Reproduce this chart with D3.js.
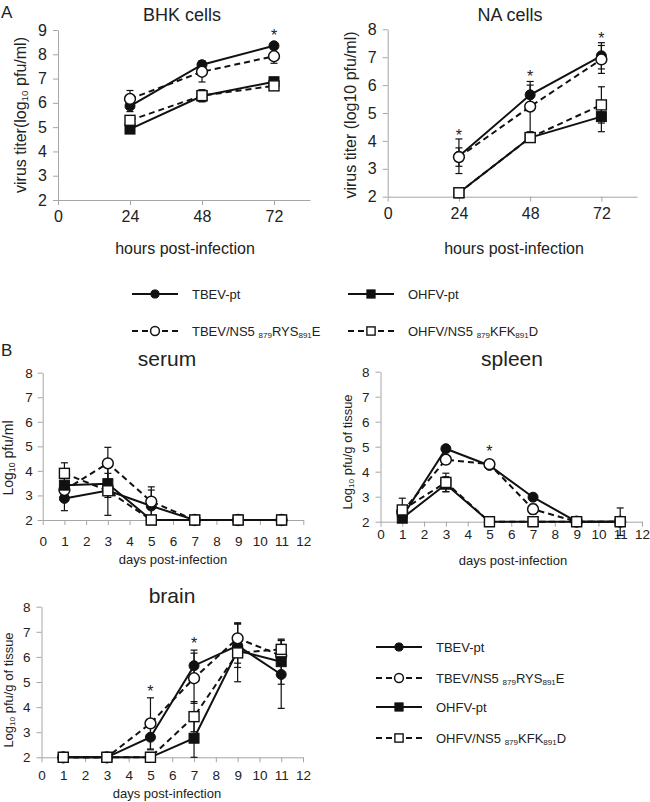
<!DOCTYPE html>
<html><head><meta charset="utf-8">
<script src="https://cdn.jsdelivr.net/npm/d3@7/dist/d3.min.js"></script>
<style>body{margin:0;background:#fff}svg{display:block;font-family:Arial,"Liberation Sans",sans-serif}</style>
</head><body><svg id="c" width="650" height="802"></svg>
<script>
// ---------- data ----------
const seriesNames = ["TBEV-pt", "TBEV/NS5 879RYS891E", "OHFV-pt", "OHFV/NS5 879KFK891D"];
const hours = [24, 48, 72];
const days = [1, 3, 5, 7, 9, 11];
const hourTicks = [0, 24, 48, 72];
const dayTicks = [0,1,2,3,4,5,6,7,8,9,10,11,12];

// BHK cells (log10 pfu/ml)
const bhkTBEVpt  = [5.87, 7.57, 8.35], bhkTBEVptErr  = [0.23, 0.17, 0.05];
const bhkTBEVmut = [6.16, 7.28, 7.92], bhkTBEVmutErr = [0.35, 0.42, 0.29];
const bhkOHFVpt  = [4.92, 6.28, 6.87], bhkOHFVptErr  = [0.05, 0.24, 0.05];
const bhkOHFVmut = [5.28, 6.30, 6.70], bhkOHFVmutErr = [0.05, 0.24, 0.05];
const bhkStars = [[72, 8.92]];

// NA cells
const naTBEVpt  = [3.45, 5.65, 7.05], naTBEVptErr  = [0.62, 0.35, 0.47];
const naTBEVmut = [3.42, 5.23, 6.92], naTBEVmutErr = [0.33, 0.90, 0.50];
const naOHFVpt  = [2.14, 4.12, 4.87], naOHFVptErr  = [0.03, 0.05, 0.54];
const naOHFVmut = [2.14, 4.12, 5.29], naOHFVmutErr = [0.03, 0.05, 0.65];
const naStars = [[24, 4.33], [48, 6.44], [72, 7.8]];

// serum
const serTBEVpt  = [2.88, 3.20, 2.57, 2, 2, 2], serTBEVptErr  = [0.50, 0.28, 0.65, 0, 0, 0];
const serTBEVmut = [3.22, 4.31, 2.75, 2, 2, 2], serTBEVmutErr = [0.30, 0.65, 0.60, 0, 0, 0];
const serOHFVpt  = [3.42, 3.48, 2.00, 2, 2, 2], serOHFVptErr  = [0.30, 0.42, 0, 0, 0, 0];
const serOHFVmut = [3.90, 3.19, 2.00, 2, 2, 2], serOHFVmutErr = [0.43, 1.00, 0, 0, 0, 0];
const serStars = [];

// spleen
const splTBEVpt  = [2.20, 4.92, 4.25, 2.98, 2, 2], splTBEVptErr  = [0.10, 0.08, 0.08, 0.08, 0, 0];
const splTBEVmut = [2.40, 4.48, 4.30, 2.50, 2, 2], splTBEVmutErr = [0.10, 0.17, 0.08, 0.20, 0, 0];
const splOHFVpt  = [2.14, 3.50, 2.00, 2.00, 2, 2], splOHFVptErr  = [0.05, 0.30, 0, 0, 0, 0];
const splOHFVmut = [2.47, 3.57, 2.00, 2.00, 2, 2], splOHFVmutErr = [0.47, 0.37, 0, 0, 0, 0.55];
const splStars = [[5, 4.95]];

// brain
const brnTBEVpt  = [2, 2, 2.80, 5.65, 6.45, 5.30], brnTBEVptErr  = [0, 0, 0.50, 0.62, 0.87, 1.35];
const brnTBEVmut = [2, 2, 3.35, 5.15, 6.74, 6.05], brnTBEVmutErr = [0, 0, 1.02, 1.00, 0.62, 0.30];
const brnOHFVpt  = [2, 2, 2.00, 2.76, 6.25, 5.81], brnOHFVptErr  = [0, 0, 0, 0.76, 0.50, 0.90];
const brnOHFVmut = [2, 2, 2.00, 3.62, 6.16, 6.30], brnOHFVmutErr = [0, 0, 0, 0.60, 1.15, 0.37];
const brnStars = [[5, 4.75], [7, 6.67]];

// ---------- styles ----------
const styles = [
  {dash: null,  shape: "circle", fill: "#111"},
  {dash: "6,4", shape: "circle", fill: "#fff"},
  {dash: null,  shape: "square", fill: "#111"},
  {dash: "6,4", shape: "square", fill: "#fff"}
];
const AXIS = "#a6a6a6", TXT = "#222";
const svg = d3.select("#c");

function marker(g, st, cx, cy, k) {
  k = k || 1;
  if (st.shape === "circle") {
    const open = st.fill === "#fff";
    g.append("circle").attr("cx", cx).attr("cy", cy).attr("r", (open ? 5.4 : 5.0) * k)
      .attr("fill", st.fill).attr("stroke", "#111").attr("stroke-width", open ? 1.5 : 1);
  } else {
    const s = 10 * k;
    g.append("rect").attr("x", cx - s/2).attr("y", cy - s/2).attr("width", s).attr("height", s)
      .attr("fill", st.fill).attr("stroke", "#111").attr("stroke-width", st.fill === "#fff" ? 1.4 : 1);
  }
}

function subText(t, parts, size) {
  parts.forEach(p => {
    const ts = t.append("tspan").text(p[0]);
    if (p[1]) ts.attr("font-size", size * 0.62).attr("baseline-shift", "-22%");
  });
}

function panel(c) {
  const g = svg.append("g");
  const x = d3.scaleLinear().domain(c.xDomain).range(c.xRange);
  const y = d3.scaleLinear().domain(c.yDomain).range(c.yRange);
  const y0 = y(c.yDomain[0]);

  const xa = g.append("g").attr("transform", `translate(0,${y0})`)
    .call(d3.axisBottom(x).tickValues(c.xTicks).tickSize(5).tickSizeOuter(0).tickPadding(c.xPad).tickFormat(d3.format("d")));
  const ya = g.append("g").attr("transform", `translate(${x(c.xDomain[0])},0)`)
    .call(d3.axisLeft(y).tickValues(d3.range(c.yDomain[0], c.yDomain[1] + 1)).tickSize(5).tickSizeOuter(0).tickPadding(c.yPad).tickFormat(d3.format("d")));
  [xa, ya].forEach(a => {
    a.select(".domain").attr("stroke", AXIS);
    a.selectAll(".tick line").attr("stroke", AXIS);
    a.selectAll(".tick text").attr("fill", TXT).attr("font-size", c.tickSize).attr("font-family", "Arial, 'Liberation Sans', sans-serif");
  });

  g.append("text").attr("x", c.title[1]).attr("y", c.title[2]).attr("text-anchor", "middle")
    .attr("font-size", c.titleSize).attr("fill", TXT).text(c.title[0]);
  g.append("text").attr("x", c.xLab[1]).attr("y", c.xLab[2]).attr("text-anchor", "middle")
    .attr("font-size", c.xLabSize).attr("fill", TXT).text(c.xLab[0]);
  const yl = g.append("text").attr("text-anchor", "middle").attr("font-size", c.yLabSize).attr("fill", TXT)
    .attr("transform", `translate(${c.yLabPos[0]},${c.yLabPos[1]}) rotate(-90)`).attr("dy", "0.35em");
  subText(yl, c.yLab, c.yLabSize);

  const line = d3.line().x((d, i) => x(c.xs[i])).y(d => y(d));
  c.series.forEach((s, si) => {
    const st = styles[si];
    g.append("path").attr("d", line(s.v)).attr("fill", "none").attr("stroke", "#111")
      .attr("stroke-width", 2).attr("stroke-dasharray", st.dash);
  });
  c.series.forEach(s => {
    s.v.forEach((v, i) => {
      const e = s.e[i];
      if (!e) return;
      const cx = x(c.xs[i]);
      g.append("line").attr("x1", cx).attr("x2", cx).attr("y1", y(v - e)).attr("y2", y(v + e))
        .attr("stroke", "#111").attr("stroke-width", 1.2);
      [v - e, v + e].forEach(w => {
        g.append("line").attr("x1", cx - 3.5).attr("x2", cx + 3.5).attr("y1", y(w)).attr("y2", y(w))
          .attr("stroke", "#111").attr("stroke-width", 1.2);
      });
    });
  });
  c.series.forEach((s, si) => {
    s.v.forEach((v, i) => marker(g, styles[si], x(c.xs[i]), y(v)));
  });
  c.stars.forEach(sv => {
    g.append("text").attr("x", x(sv[0])).attr("y", y(sv[1]) + 9).attr("text-anchor", "middle")
      .attr("font-size", 16).attr("fill", TXT).text("*");
  });
}

const mk = (vals, errs) => vals.map((v, i) => ({v: v, e: errs[i]}));

panel({
  xDomain: [0, 84], xRange: [58, 310], yDomain: [2, 9], yRange: [200, 30],
  xTicks: hourTicks, xs: hours, xPad: 6, yPad: 6, tickSize: 16,
  title: ["BHK cells", 182, 21], titleSize: 18,
  xLab: ["hours post-infection", 185, 254], xLabSize: 16,
  yLab: [["virus titer(log", false], ["10", true], [" pfu/ml)", false]], yLabPos: [20, 115], yLabSize: 16,
  series: mk([bhkTBEVpt, bhkTBEVmut, bhkOHFVpt, bhkOHFVmut], [bhkTBEVptErr, bhkTBEVmutErr, bhkOHFVptErr, bhkOHFVmutErr]),
  stars: bhkStars
});
panel({
  xDomain: [0, 84], xRange: [387.7, 637], yDomain: [2, 8], yRange: [196.7, 29.3],
  xTicks: hourTicks, xs: hours, xPad: 6, yPad: 6, tickSize: 16,
  title: ["NA cells", 510, 21], titleSize: 18,
  xLab: ["hours post-infection", 514, 254], xLabSize: 16,
  yLab: [["virus titer (log10 pfu/ml)", false]], yLabPos: [350, 115], yLabSize: 16,
  series: mk([naTBEVpt, naTBEVmut, naOHFVpt, naOHFVmut], [naTBEVptErr, naTBEVmutErr, naOHFVptErr, naOHFVmutErr]),
  stars: naStars
});
panel({
  xDomain: [0, 12], xRange: [42.7, 303.3], yDomain: [2, 8], yRange: [520, 372.7],
  xTicks: dayTicks, xs: days, xPad: 11, yPad: 5, tickSize: 13.5,
  title: ["serum", 167, 366], titleSize: 21,
  xLab: ["days post-infection", 173, 564], xLabSize: 13,
  yLab: [["Log", false], ["10", true], [" pfu/ml", false]], yLabPos: [8, 458], yLabSize: 14,
  series: mk([serTBEVpt, serTBEVmut, serOHFVpt, serOHFVmut], [serTBEVptErr, serTBEVmutErr, serOHFVptErr, serOHFVmutErr]),
  stars: serStars
});
panel({
  xDomain: [0, 12], xRange: [380.5, 642], yDomain: [2, 8], yRange: [521.7, 371.7],
  xTicks: dayTicks, xs: days, xPad: 3, yPad: 6, tickSize: 13.5,
  title: ["spleen", 512, 366], titleSize: 21,
  xLab: ["days post-infection", 513, 565], xLabSize: 13,
  yLab: [["Log", false], ["10", true], [" pfu/g of tissue", false]], yLabPos: [347, 452], yLabSize: 13,
  series: mk([splTBEVpt, splTBEVmut, splOHFVpt, splOHFVmut], [splTBEVptErr, splTBEVmutErr, splOHFVptErr, splOHFVmutErr]),
  stars: splStars
});
panel({
  xDomain: [0, 12], xRange: [41.5, 303], yDomain: [2, 8], yRange: [757.3, 606.7],
  xTicks: dayTicks, xs: days, xPad: 8.5, yPad: 6, tickSize: 13.5,
  title: ["brain", 172, 603], titleSize: 21,
  xLab: ["days post-infection", 167, 797.5], xLabSize: 13,
  yLab: [["Log", false], ["10", true], [" pfu/g of tissue", false]], yLabPos: [8, 690], yLabSize: 13,
  series: mk([brnTBEVpt, brnTBEVmut, brnOHFVpt, brnOHFVmut], [brnTBEVptErr, brnTBEVmutErr, brnOHFVptErr, brnOHFVmutErr]),
  stars: brnStars
});

svg.append("text").attr("x", 1).attr("y", 18).attr("font-size", 17).attr("fill", TXT).text("A");
svg.append("text").attr("x", 1).attr("y", 356).attr("font-size", 17).attr("fill", TXT).text("B");

function legendLabel(name) {
  const m = name.match(/^(.*NS5 )(\d+)([A-Z]+)(\d+)([A-Z])$/);
  if (!m) return [[name, false]];
  return [[m[1], false], [m[2], true], [m[3], false], [m[4], true], [m[5], false]];
}
function legendItem(si, lx, ly) {
  const g = svg.append("g");
  const st = styles[si];
  g.append("line").attr("x1", lx).attr("x2", lx + 46).attr("y1", ly).attr("y2", ly)
    .attr("stroke", "#111").attr("stroke-width", 2).attr("stroke-dasharray", st.dash);
  marker(g, st, lx + 23, ly, 0.82);
  const t = g.append("text").attr("x", lx + 60).attr("y", ly + 4.6).attr("font-size", 13).attr("fill", TXT);
  subText(t, legendLabel(seriesNames[si]), 13);
}
const legAPos = [[132, 294], [132, 331], [348, 294], [348, 331]];
seriesNames.forEach((n, i) => legendItem(i, legAPos[i][0], legAPos[i][1]));
const legBRows = [647, 678, 707, 738];
seriesNames.forEach((n, i) => legendItem(i, 376, legBRows[i]));
</script>
</body></html>
